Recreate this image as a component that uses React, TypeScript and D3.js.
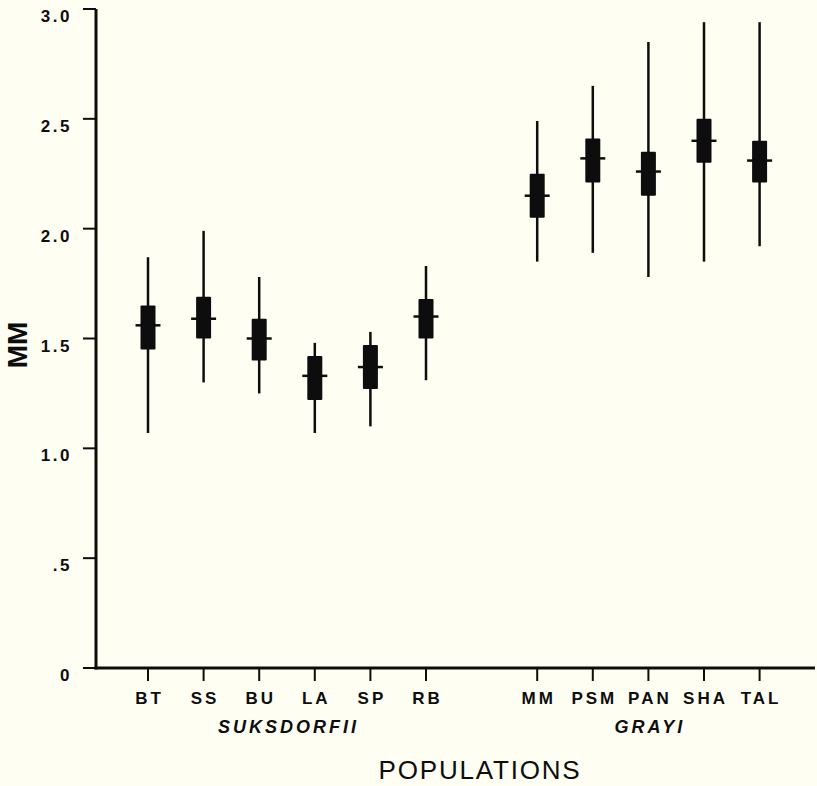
import React from "react";
import * as d3 from "d3";

const populations = ["BT", "SS", "BU", "LA", "SP", "RB", "MM", "PSM", "PAN", "SHA", "TAL"];
const slots = [0, 1, 2, 3, 4, 5, 7, 8, 9, 10, 11];
const whiskerMax = [1.87, 1.99, 1.78, 1.48, 1.53, 1.83, 2.49, 2.65, 2.85, 2.94, 2.94];
const whiskerMin = [1.07, 1.3, 1.25, 1.07, 1.1, 1.31, 1.85, 1.89, 1.78, 1.85, 1.92];
const boxHigh = [1.65, 1.69, 1.59, 1.42, 1.47, 1.68, 2.25, 2.41, 2.35, 2.5, 2.4];
const boxLow = [1.45, 1.5, 1.4, 1.22, 1.27, 1.5, 2.05, 2.21, 2.15, 2.3, 2.21];
const means = [1.56, 1.59, 1.5, 1.33, 1.37, 1.6, 2.15, 2.32, 2.26, 2.4, 2.31];
const groups = ["SUKSDORFII", "GRAYI"];
const groupCenters = [2.5, 9];
const yTicks = [0, 0.5, 1.0, 1.5, 2.0, 2.5, 3.0];
const yTickLabels = ["0", ".5", "1.0", "1.5", "2.0", "2.5", "3.0"];

const W = 817;
const H = 786;

export default function App() {
  const y = d3.scaleLinear().domain([0, 3]).range([668, 9]);
  const x = d3.scaleLinear().domain([0, 11]).range([148, 759.6]);
  const axisX = 96;
  const axisY = y(0);
  const font = "'Liberation Sans', Arial, Helvetica, sans-serif";
  const ink = "#0d0d0d";

  return (
    <svg
      width={W}
      height={H}
      style={{ position: "absolute", left: 0, top: 0, background: "#fffef3" }}
    >
      <rect x={0} y={0} width={W} height={H} fill="#fffef3" />
      {/* axes */}
      <line x1={axisX} x2={axisX} y1={y(3)} y2={axisY + 1.5} stroke={ink} strokeWidth={3} />
      <line x1={axisX - 1.5} x2={815} y1={axisY} y2={axisY} stroke={ink} strokeWidth={3.2} />
      {yTicks.map((t, i) => (
        <g key={"yt" + i}>
          <line x1={83} x2={axisX} y1={y(t)} y2={y(t)} stroke={ink} strokeWidth={2} />
          <text
            x={72}
            y={y(t) + 13}
            textAnchor="end"
            fontFamily={font}
            fontWeight="bold"
            fontSize={17}
            letterSpacing={2.5}
            fill={ink}
          >
            {yTickLabels[i]}
          </text>
        </g>
      ))}
      {populations.map((p, i) => {
        const cx = x(slots[i]);
        return (
          <g key={p}>
            <line x1={cx} x2={cx} y1={axisY} y2={axisY + 13} stroke={ink} strokeWidth={2} />
            <text
              x={cx + 1.5}
              y={704}
              textAnchor="middle"
              fontFamily={font}
              fontWeight="bold"
              fontSize={17}
              letterSpacing={3}
              fill={ink}
            >
              {p}
            </text>
            <line x1={cx} x2={cx} y1={y(whiskerMax[i])} y2={y(whiskerMin[i])} stroke={ink} strokeWidth={2.5} />
            <rect
              x={cx - 7.5}
              y={y(boxHigh[i])}
              width={15}
              height={y(boxLow[i]) - y(boxHigh[i])}
              fill={ink}
              rx={1}
            />
            <line x1={cx - 12.5} x2={cx + 12.5} y1={y(means[i])} y2={y(means[i])} stroke={ink} strokeWidth={2.5} />
          </g>
        );
      })}
      {groups.map((g, i) => (
        <text
          key={g}
          x={x(groupCenters[i]) + 1.5}
          y={733}
          textAnchor="middle"
          fontFamily={font}
          fontWeight="bold"
          fontStyle="italic"
          fontSize={18}
          letterSpacing={3}
          fill={ink}
        >
          {g}
        </text>
      ))}
      <text
        x={480}
        y={779}
        textAnchor="middle"
        fontFamily={font}
        fontSize={26}
        letterSpacing={1.8}
        fill={ink}
      >
        POPULATIONS
      </text>
      <text
        transform="translate(27,345) rotate(-90)"
        textAnchor="middle"
        fontFamily={font}
        fontWeight="bold"
        fontSize={28}
        fill={ink}
      >
        MM
      </text>
    </svg>
  );
}
